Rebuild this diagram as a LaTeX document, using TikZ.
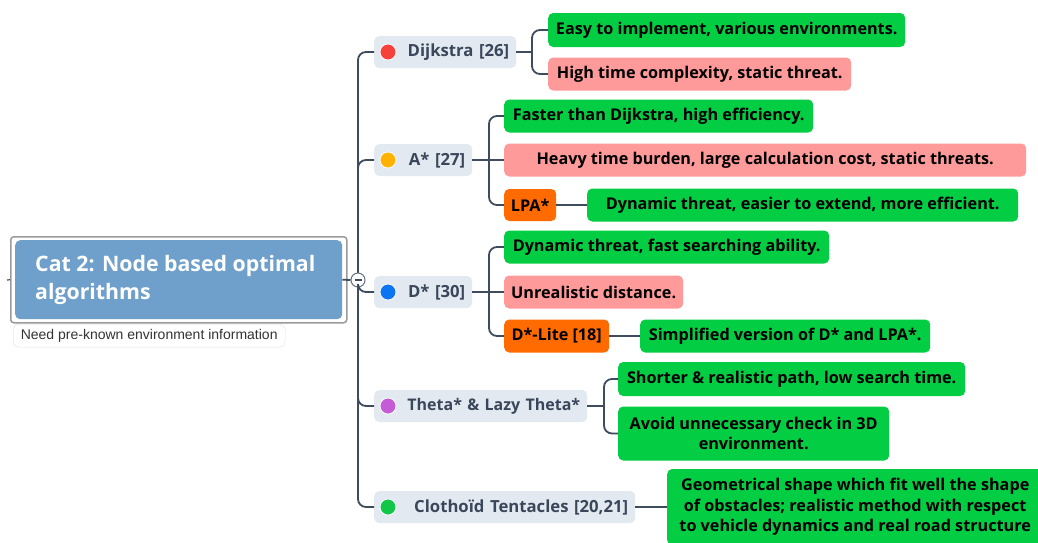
\documentclass[tikz,border=0pt]{standalone}
\usepackage{fontspec}
\setmainfont{Open Sans}
\newfontfamily\notefont{Liberation Sans}
\definecolor{conncol}{HTML}{3E4C5E}
\definecolor{rootblue}{HTML}{6F9FCB}
\definecolor{rootframe}{HTML}{9A9A9A}
\definecolor{topicbg}{HTML}{E2E9F1}
\definecolor{topictext}{HTML}{3A475A}
\definecolor{leafgreen}{HTML}{03CD42}
\definecolor{leafpink}{HTML}{FF9A9A}
\definecolor{leaforange}{HTML}{FF6B00}
\definecolor{dotred}{HTML}{F6413A}
\definecolor{dotorange}{HTML}{FFB300}
\definecolor{dotblue}{HTML}{0B74F0}
\definecolor{dotpurple}{HTML}{C55CD6}
\definecolor{dotgreen}{HTML}{12C64A}
\definecolor{notebord}{HTML}{DDDDDD}
\definecolor{notetext}{HTML}{333333}
\tikzset{
  conn/.style={draw=conncol, line width=1.8pt},
  rconn/.style={conn, rounded corners=8pt},
  topic/.style={fill=topicbg, rounded corners=5pt, anchor=west, minimum height=32pt,
    inner xsep=7pt, inner ysep=0pt, align=right, text=topictext,
    font=\fontsize{16.7}{19}\selectfont\bfseries},
  tdot/.style={circle, inner sep=0pt, minimum size=16pt, draw=white, line width=0.8pt},
  leaf/.style={rounded corners=5pt, anchor=west, minimum height=33pt, inner xsep=0pt,
    inner ysep=0pt, align=center, text=black,
    font=\fontsize{16.2}{20.5}\selectfont\bfseries},
  gleaf/.style={leaf, fill=leafgreen},
  pleaf/.style={leaf, fill=leafpink},
  oleaf/.style={leaf, fill=leaforange},
}
\begin{document}
\begin{tikzpicture}[x=1pt,y=-1pt]
\useasboundingbox (0,0) rectangle (1038,542);

% root
\node[draw=rootframe, line width=1.5pt, rounded corners=3pt, fill=white, anchor=north west,
  minimum width=336pt, minimum height=86pt, inner sep=0pt] (rootframe) at (10,236) {};
\node[fill=rootblue, rounded corners=5pt, anchor=north west,
  minimum width=327pt, minimum height=79pt, inner sep=0pt] (root) at (15,240) {};
\node[anchor=west, text=white, align=left, inner sep=0pt,
  font=\fontsize{21.3}{28}\selectfont\bfseries] (roottext) at (35,280) {Cat 2: Node based optimal\\algorithms};
\coordinate (stub) at (7,280);
\draw[conn, line width=1.2pt] (stub) -- (rootframe.west);
\node[draw=notebord, rounded corners=6pt, fill=white, anchor=north west, minimum width=272pt,
  minimum height=23pt, inner sep=0pt, text=notetext,
  font=\notefont\fontsize{14}{15}\selectfont] (note) at (13,324) {Need pre-known environment information};

% toggle
\node[circle, draw=conncol!80, line width=1pt, fill=white, minimum size=14pt, inner sep=0pt] (tog) at (358,280) {};

% topics
\node[topic, minimum width=142pt, text width=128pt] (dij) at (374,52) {Dijkstra [26]};
\node[topic, minimum width=98pt, text width=84pt] (ast) at (374,160) {A* [27]};
\node[topic, minimum width=98pt, text width=84pt] (dst) at (374,292) {D* [30]};
\node[topic, minimum width=213pt, text width=199pt, font=\fontsize{16}{19}\selectfont\bfseries] (the) at (374,406) {Theta* \& Lazy Theta*};
\node[topic, minimum width=261pt, text width=247pt] (clo) at (374,507) {Clotho\"id Tentacles [20,21]};

\node[tdot, fill=dotred] (dijdot) at (388,52) {};
\node[tdot, fill=dotorange] (astdot) at (388,160) {};
\node[tdot, fill=dotblue] (dstdot) at (388,292) {};
\node[tdot, fill=dotpurple] (thedot) at (388,406) {};
\node[tdot, fill=dotgreen] (clodot) at (388,507) {};

% leaves
\node[gleaf, minimum width=357pt, minimum height=34pt] (l1) at (548,30) {Easy to implement, various environments.};
\node[pleaf, minimum width=303pt] (l2) at (548,74) {High time complexity, static threat.};
\node[gleaf, minimum width=309pt] (l3) at (504,116) {Faster than Dijkstra, high efficiency.};
\node[pleaf, minimum width=522pt] (l4) at (504,160) {Heavy time burden, large calculation cost, static threats.};
\node[oleaf, minimum width=52pt, minimum height=32pt] (l5) at (504,205) {LPA*};
\node[gleaf, minimum width=431pt] (l6) at (587,205) {Dynamic threat, easier to extend, more efficient.};
\node[gleaf, minimum width=325pt] (l7) at (504,247) {Dynamic threat, fast searching ability.};
\node[pleaf, minimum width=179pt] (l8) at (504,292) {Unrealistic distance.};
\node[oleaf, minimum width=105pt] (l9) at (504,336) {D*-Lite [18]};
\node[gleaf, minimum width=290pt] (l10) at (640,336) {Simplified version of D* and LPA*.};
\node[gleaf, minimum width=347pt, minimum height=34pt] (l11) at (618,379) {Shorter \& realistic path, low search time.};
\node[gleaf, minimum width=271pt, minimum height=54pt] (l12) at (618,433.5) {Avoid unnecessary check in 3D\\environment.};
\node[gleaf, minimum width=376pt, minimum height=76pt] (l13) at (667,507) {Geometrical shape which fit well the shape\\of obstacles; realistic method with respect\\to vehicle dynamics and real road structure};

% connectors root
\draw[conn] (root.east) -- (tog.west);
\draw[rconn] (tog.north) |- (dij.west);
\draw[rconn] (tog.north) |- (ast.west);
\draw[rconn] (tog.south) |- (dst.west);
\draw[rconn] (tog.south) |- (the.west);
\draw[rconn] (tog.south) |- (clo.west);
\draw[conncol, line width=1.2pt] ([xshift=-3.5pt]tog.center) -- ([xshift=3.5pt]tog.center);

% junctions
\coordinate (jdij) at (532,52);
\coordinate (jast) at (489,160);
\coordinate (jdst) at (489,292);
\coordinate (jthe) at (604,406);

\draw[conn] (dij.east) -- (jdij);
\draw[rconn] (jdij) |- (l1.west);
\draw[rconn] (jdij) |- (l2.west);

\draw[conn] (ast.east) -- (jast);
\draw[rconn] (jast) |- (l3.west);
\draw[conn] (jast) -- (l4.west);
\draw[rconn] (jast) |- (l5.west);
\draw[conn] (l5.east) -- (l6.west);

\draw[conn] (dst.east) -- (jdst);
\draw[rconn] (jdst) |- (l7.west);
\draw[conn] (jdst) -- (l8.west);
\draw[rconn] (jdst) |- (l9.west);
\draw[conn] (l9.east) -- (l10.west);

\draw[conn] (the.east) -- (jthe);
\draw[rconn] (jthe) |- (l11.west);
\draw[rconn] (jthe) |- (l12.west);

\draw[conn] (clo.east) -- (l13.west);
\end{tikzpicture}
\end{document}
